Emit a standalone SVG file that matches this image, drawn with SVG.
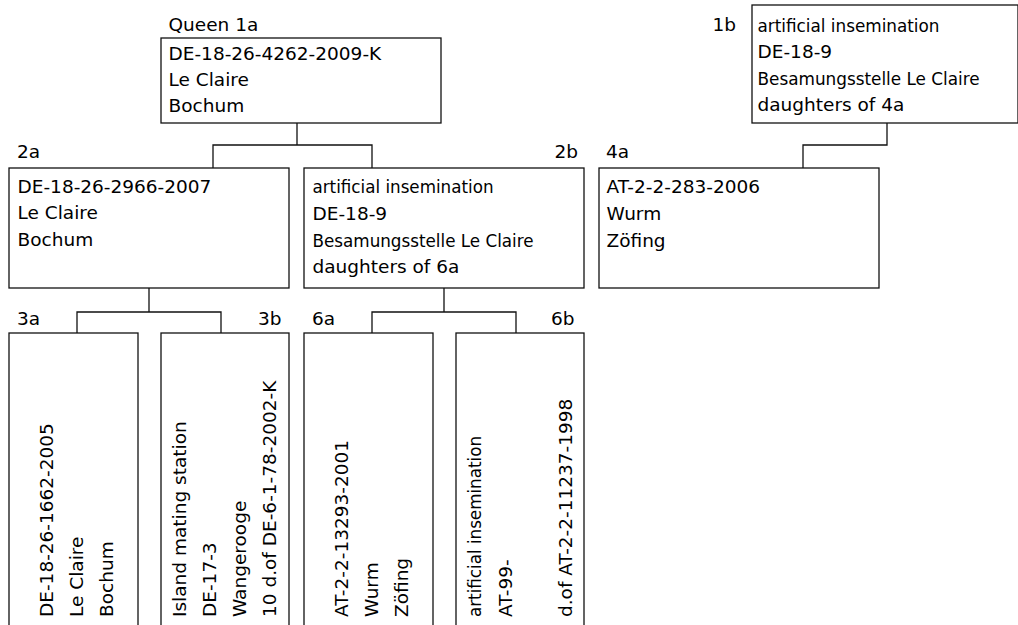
<svg xmlns="http://www.w3.org/2000/svg" width="1018" height="625" viewBox="0 0 1018 625">
<style>
.box{fill:#fff;stroke:#111;stroke-width:1.3}
.con{fill:none;stroke:#111;stroke-width:1.3}
text{font-family:"DejaVu Sans","Liberation Sans",sans-serif;font-size:18.5px;fill:#000}
.cond{font-family:"DejaVu Sans Condensed","DejaVu Sans","Liberation Sans Narrow",sans-serif;font-stretch:condensed}
.end{text-anchor:end}
</style>
<rect width="1018" height="625" fill="#fff"/>
<g id="connectors">
<path class="con" d="M297,123V145M213,168V145H372V168"/>
<path class="con" d="M887,123V145H803V168"/>
<path class="con" d="M149,288V312M77,333V312H221V333"/>
<path class="con" d="M444,288V312M372,333V312H516V333"/>
</g>
<g id="node-1a">
<text x="168.5" y="31">Queen 1a</text>
<rect class="box" x="161" y="38" width="280" height="85"/>
<text x="168.5" y="59.5">DE-18-26-4262-2009-K</text>
<text x="168.5" y="85.5">Le Claire</text>
<text x="168.5" y="111.5">Bochum</text>
</g>
<g id="node-1b">
<text class="end" x="736" y="30.5">1b</text>
<rect class="box" x="752" y="5" width="266" height="118"/>
<text class="cond" x="757.5" y="31.5" textLength="182" lengthAdjust="spacingAndGlyphs">artificial insemination</text>
<text x="757.5" y="58">DE-18-9</text>
<text class="cond" x="757.5" y="84.5" textLength="222" lengthAdjust="spacingAndGlyphs">Besamungsstelle Le Claire</text>
<text x="757.5" y="111">daughters of 4a</text>
</g>
<g id="node-2a">
<text x="17" y="158">2a</text>
<rect class="box" x="9" y="168" width="280" height="120"/>
<text x="17.5" y="192.7">DE-18-26-2966-2007</text>
<text x="17.5" y="219.3">Le Claire</text>
<text x="17.5" y="246">Bochum</text>
</g>
<g id="node-2b">
<text class="end" x="578" y="158">2b</text>
<rect class="box" x="304" y="168" width="280" height="120"/>
<text class="cond" x="312.5" y="193.3" textLength="181" lengthAdjust="spacingAndGlyphs">artificial insemination</text>
<text x="312.5" y="220">DE-18-9</text>
<text class="cond" x="312.5" y="246.5" textLength="221" lengthAdjust="spacingAndGlyphs">Besamungsstelle Le Claire</text>
<text x="312.5" y="273">daughters of 6a</text>
</g>
<g id="node-4a">
<text x="606" y="157.5">4a</text>
<rect class="box" x="599" y="168" width="280" height="120"/>
<text x="606.5" y="193.3">AT-2-2-283-2006</text>
<text x="606.5" y="220">Wurm</text>
<text x="606.5" y="246.5">Zöfing</text>
</g>
<g id="node-3a">
<text x="17" y="325">3a</text>
<rect class="box" x="9" y="333" width="129" height="310"/>
<g transform="translate(0,617) rotate(-90)">
<text x="0" y="53.3">DE-18-26-1662-2005</text>
<text x="0" y="83.3">Le Claire</text>
<text x="0" y="113.3">Bochum</text>
</g>
</g>
<g id="node-3b">
<text class="end" x="281.5" y="325">3b</text>
<rect class="box" x="161" y="333" width="128" height="310"/>
<g transform="translate(0,617) rotate(-90)">
<text x="0" y="186">Island mating station</text>
<text x="0" y="216">DE-17-3</text>
<text x="0" y="246">Wangerooge</text>
<text x="0" y="276">10 d.of DE-6-1-78-2002-K</text>
</g>
</g>
<g id="node-6a">
<text x="312" y="325">6a</text>
<rect class="box" x="304" y="333" width="129" height="310"/>
<g transform="translate(0,617) rotate(-90)">
<text x="0" y="348.3">AT-2-2-13293-2001</text>
<text x="0" y="378.3">Wurm</text>
<text x="0" y="408.3">Zöfing</text>
</g>
</g>
<g id="node-6b">
<text class="end" x="574.5" y="325">6b</text>
<rect class="box" x="456" y="333" width="128" height="310"/>
<g transform="translate(0,617) rotate(-90)">
<text class="cond" x="0" y="481" textLength="181" lengthAdjust="spacingAndGlyphs">artificial insemination</text>
<text x="0" y="511.7">AT-99-</text>
<text x="0" y="571.7">d.of AT-2-2-11237-1998</text>
</g>
</g>
</svg>
